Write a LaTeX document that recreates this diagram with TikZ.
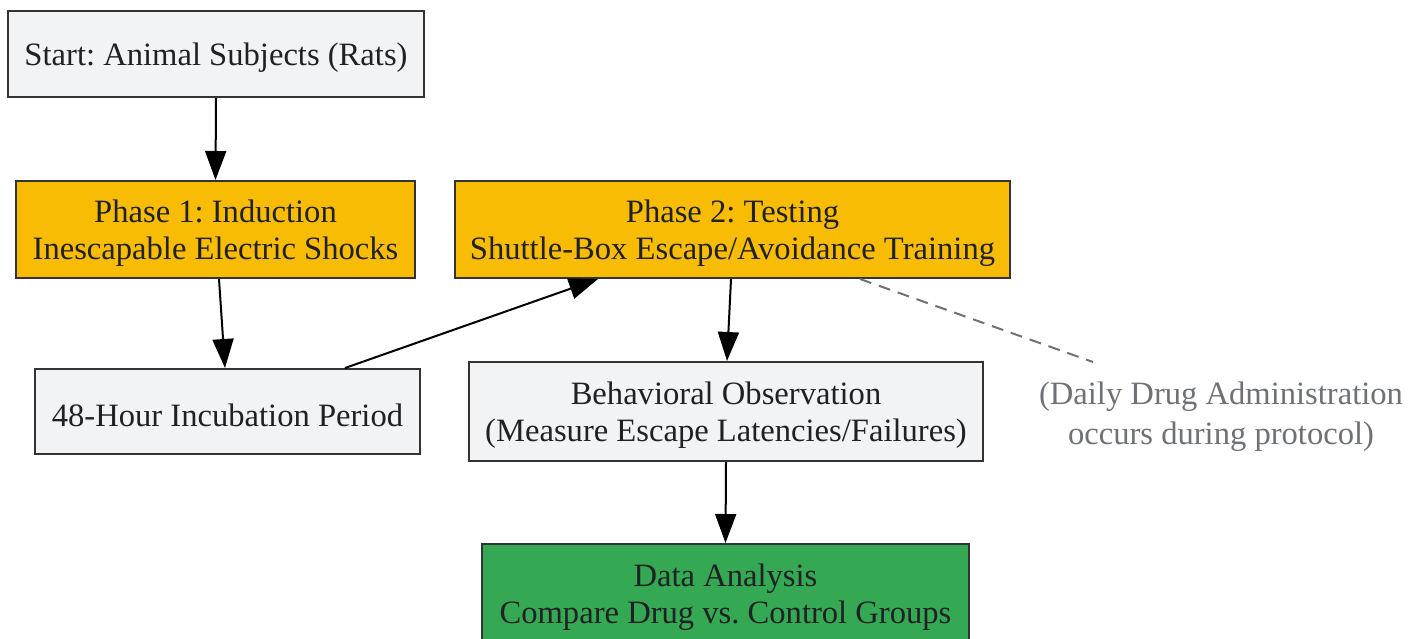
\documentclass[tikz,border=0pt]{standalone}
\usepackage{fontspec}
\setmainfont{Liberation Serif}
\usetikzlibrary{arrows.meta}
\definecolor{boxgray}{HTML}{F1F3F4}
\definecolor{phaseyel}{HTML}{F9BC05}
\definecolor{datagreen}{HTML}{34A853}
\definecolor{edgecol}{HTML}{333333}
\definecolor{txtcol}{HTML}{202124}
\definecolor{notecol}{HTML}{6E7175}
\begin{document}
\frenchspacing
\begin{tikzpicture}[x=1pt,y=-1pt,
  box/.style={draw=edgecol, line width=2pt, inner sep=0pt, align=center,
    text=txtcol, font=\fontsize{32.6}{37}\selectfont},
  lbl/.style={align=center, inner sep=0pt, text=txtcol, yshift=-4pt,
    font=\fontsize{32.6}{37}\selectfont},
  graybox/.style={box, fill=boxgray},
  yelbox/.style={box, fill=phaseyel},
  greenbox/.style={box, fill=datagreen},
  arr/.style={line width=2pt, -{Triangle[length=29pt,width=21pt]}},
  dashline/.style={draw=notecol, line width=2pt, dash pattern=on 12pt off 8pt},
  notetext/.style={align=center, text=notecol, inner sep=0pt, font=\fontsize{32.6}{40}\selectfont}]
\useasboundingbox (0,0) rectangle (1423,638);
\node[graybox, minimum width=416pt, minimum height=86pt,
  label={[lbl]center:Start: Animal Subjects (Rats)}] (start) at (216,54) {};
\node[yelbox, minimum width=399pt, minimum height=97pt,
  label={[lbl]center:{Phase 1: Induction\\Inescapable Electric Shocks}}] (p1) at (215.5,229.5) {};
\node[yelbox, minimum width=555pt, minimum height=97pt,
  label={[lbl]center:{Phase 2: Testing\\Shuttle-Box Escape/Avoidance Training}}] (p2) at (732.5,229.5) {};
\node[graybox, minimum width=385pt, minimum height=85pt,
  label={[lbl]center:48-Hour Incubation Period}] (h48) at (227.5,411.5) {};
\node[graybox, minimum width=514pt, minimum height=99pt,
  label={[lbl]center:{Behavioral Observation\\(Measure Escape Latencies/Failures)}}] (beh) at (726,411.5) {};
\node[greenbox, minimum width=487pt, minimum height=99pt,
  label={[lbl]center:{Data Analysis\\Compare Drug vs. Control Groups}}] (data) at (725.5,593.5) {};
\node[notetext] (note) at (1221,417) {(Daily Drug Administration\\occurs during protocol)};
\coordinate (noteend) at (1093,362);
\draw[arr] (start.south) -- (p1.north);
\draw[arr] ([xshift=3.5pt]p1.south) -- ([xshift=-2.5pt]h48.north);
\draw[arr] ([xshift=117.5pt]h48.north) -- ([xshift=-134.5pt]p2.south);
\draw[arr] ([xshift=-1.5pt]p2.south) -- ([xshift=1pt]beh.north);
\draw[arr] (beh.south) -- (data.north);
\draw[dashline] ([xshift=127.5pt]p2.south) -- (noteend);
\end{tikzpicture}
\end{document}
